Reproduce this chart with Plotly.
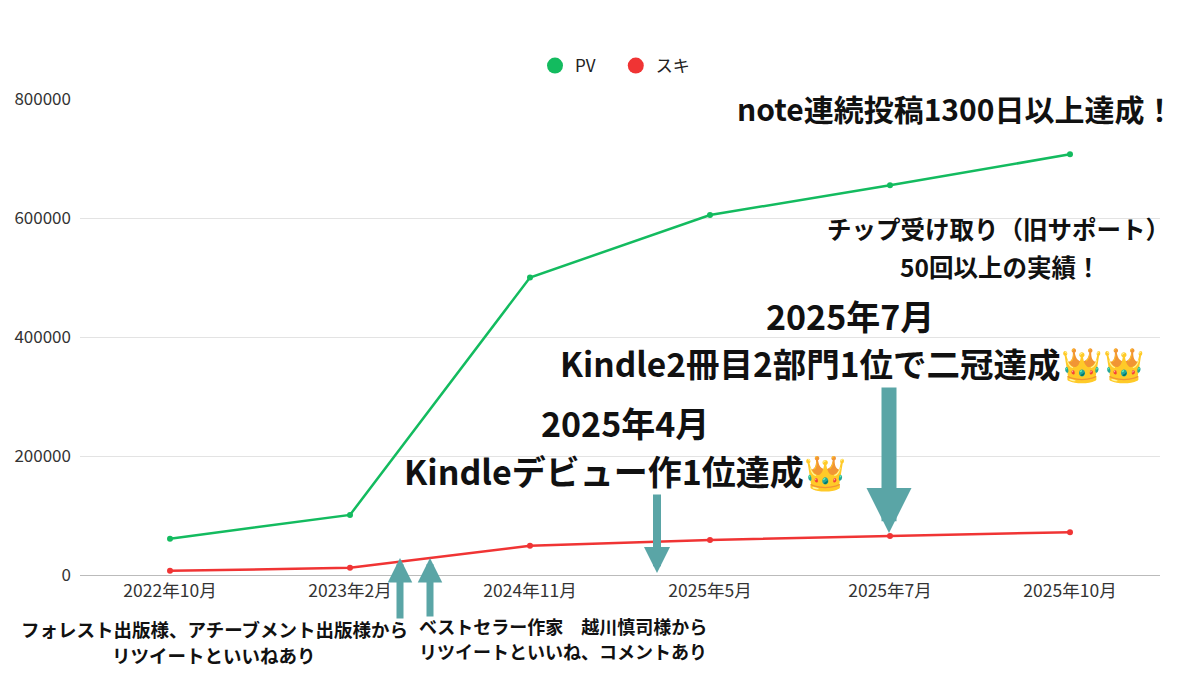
import plotly.graph_objects as go

months = ["2022年10月", "2023年2月", "2024年11月", "2025年5月", "2025年7月", "2025年10月"]
pv = [61000, 101000, 500000, 605000, 655000, 707000]
suki = [7000, 12000, 49000, 59000, 65500, 72000]
y_ticks = [0, 200000, 400000, 600000, 800000]

GREEN = "#13bb5f"
RED = "#f03434"
TEAL = "#5aa5a6"
FONT = "Noto Sans CJK JP"

# the page body adds an 8px margin, so page pixel coords are shifted by 8
OFF = 8
W, H = 1200, 675
# plot area on the page: x 80..1160, y 99..575
L, T = 80 - OFF, 99 - OFF
R, B = W - (1160 - OFF), H - (575 - OFF)


def px(x, y):
    x, y = x - OFF, y - OFF
    return (x - L) / (W - L - R), (H - B - y) / (H - T - B)


fig = go.Figure()
fig.add_trace(go.Scatter(x=months, y=pv, name="PV", mode="lines+markers",
                         line=dict(color=GREEN, width=2.5),
                         marker=dict(color=GREEN, size=6), showlegend=False))
fig.add_trace(go.Scatter(x=months, y=suki, name="スキ", mode="lines+markers",
                         line=dict(color=RED, width=2.5),
                         marker=dict(color=RED, size=6), showlegend=False))
# legend entries: plain circles
for name, c in [("PV\u00a0\u00a0\u00a0\u00a0", GREEN), ("スキ", RED)]:
    fig.add_trace(go.Scatter(x=[None], y=[None], name=name, mode="markers",
                             marker=dict(color=c, size=18)))

# (text, centre x, centre y, size) in page pixels
texts = [
    ("note連続投稿1300日以上達成！", 955, 108, 30),
    ("チップ受け取り（旧サポート）", 998, 228, 24.5),
    ("50回以上の実績！", 1000, 266, 24.5),
    ("2025年7月", 850, 315, 34),
    ("Kindle2冊目2部門1位で二冠達成👑👑", 852, 362, 33.5),
    ("2025年4月", 625, 422, 34),
    ("Kindleデビュー作1位達成👑", 625, 470, 34),
    ("フォレスト出版様、アチーブメント出版様から", 214, 629, 18.5),
    ("リツイートといいねあり", 214, 655, 18.5),
    ("ベストセラー作家　越川慎司様から", 563, 626, 18),
    ("リツイートといいね、コメントあり", 563, 651, 18),
]
for t, x, y, s in texts:
    xp, yp = px(x, y)
    fig.add_annotation(text="<b>" + t + "</b>", x=xp, y=yp, xref="paper", yref="paper",
                       xanchor="center", yanchor="middle", showarrow=False,
                       font=dict(family=FONT, size=s, color="#111"))

# arrows: (tip x, tip y, tail x, tail y, width, head size)
arrows = [
    (400, 558, 400, 620, 7, 0.7),
    (430, 558, 430, 618, 7, 0.7),
    (657, 573, 657, 493, 8, 0.65),
    (889, 533, 889, 386, 15, 0.6),
]
for x1, y1, x0, y0, w, hs in arrows:
    xp, yp = px(x1, y1)
    fig.add_annotation(text="", x=xp, y=yp, xref="paper", yref="paper",
                       ax=x0 - x1, ay=y0 - y1, showarrow=True,
                       arrowhead=2, arrowsize=hs, arrowwidth=w, arrowcolor=TEAL,
                       standoff=0)

lx, ly = px(615, 66)
fig.update_layout(
    width=W, height=H,
    margin=dict(l=L, r=R, t=T, b=B, autoexpand=False),
    paper_bgcolor="white", plot_bgcolor="white",
    font=dict(family=FONT, size=17, color="#333"),
    legend=dict(orientation="h", x=lx, y=ly, xanchor="center", yanchor="middle",
                font=dict(size=17, color="#222"), itemwidth=30),
    xaxis=dict(type="category", range=[-0.5, 5.5], showgrid=False, automargin=False,
               showline=True, linecolor="#bbb", ticks="", tickfont=dict(size=17.5)),
    yaxis=dict(range=[0, 800000], tickvals=y_ticks, tickformat="d", gridcolor="#e3e3e3",
               zeroline=False, showline=False, tickfont=dict(size=17), automargin=False,
               ticklabelstandoff=8),
)

fig.write_html("out.html")
